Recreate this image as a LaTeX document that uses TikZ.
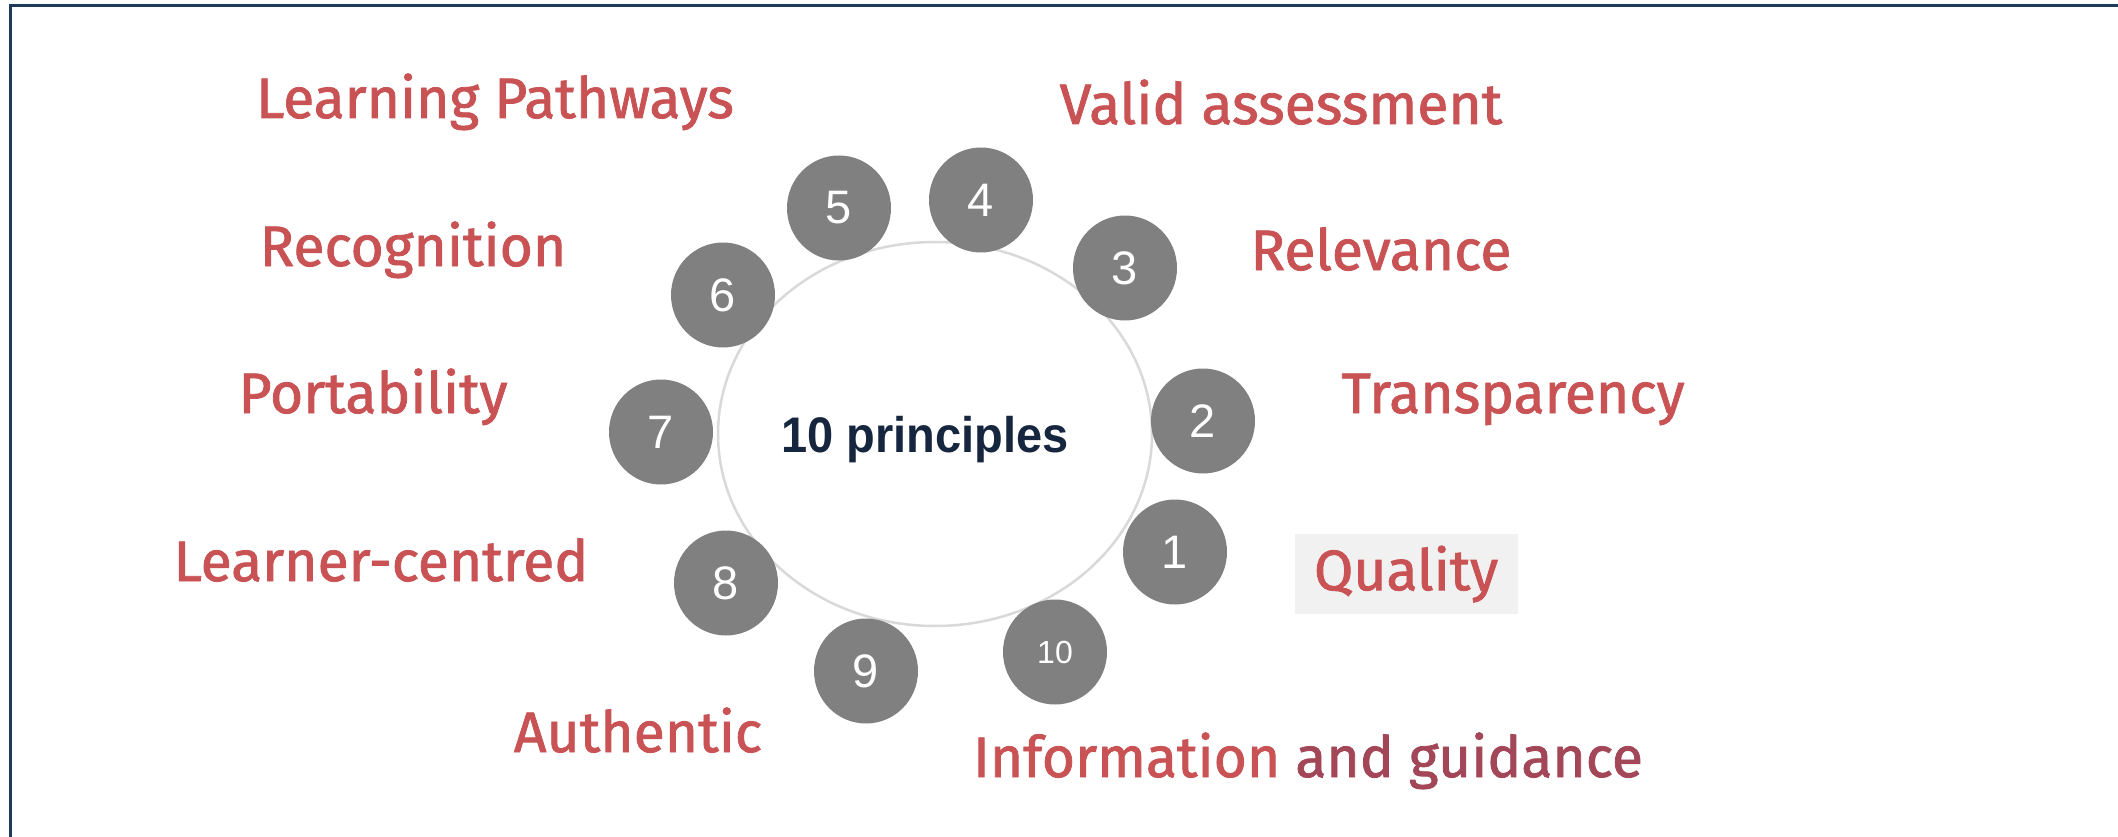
\documentclass[tikz,border=0pt]{standalone}
\usepackage{fontspec}
\setmainfont{Liberation Sans}
\newfontfamily\labelfont[FakeBold=1.4]{Fira Sans}
\usetikzlibrary{shapes.geometric}
\definecolor{framenavy}{HTML}{1F3B5C}
\definecolor{labelred}{HTML}{C95254}
\definecolor{labeldark}{HTML}{A34657}
\definecolor{dotgray}{HTML}{808080}
\definecolor{hubline}{HTML}{D9D9D9}
\definecolor{titlenavy}{HTML}{16263F}
\definecolor{qualitybg}{HTML}{F1F1F1}
\tikzset{
  num/.style={ellipse, fill=dotgray, text=white, inner sep=0pt,
    minimum width=104pt, minimum height=105pt, font=\fontsize{47}{47}\selectfont},
  principle/.style={anchor=base, text=labelred, inner sep=0pt,
    font=\labelfont\fontsize{57}{57}\selectfont},
}
\begin{document}
\begin{tikzpicture}[x=1pt,y=-1pt]
      \useasboundingbox (0,0) rectangle (2118,837);
      \fill[white] (0,0) rectangle (2118,837);
      \draw[framenavy, line width=3pt] (10,837) |- (2118,6);
      % the hub
      \node[ellipse, draw=hubline, line width=2.5pt, minimum width=434pt,
        minimum height=384pt] (hub) at (935,434) {};
      \node[anchor=base, text=titlenavy, inner sep=0pt,
        font=\bfseries\fontsize{50}{50}\selectfont] (title) at (925,452)
        {\scalebox{0.94}[1]{10 principles}};
      % numbered dots
      \draw
        (1175,552) node[num] (1){1}
        (1203,421) node[num] (2){2}
        (1125,268) node[num] (3){3}
        (981,200) node[num] (4){4}
        (839,208) node[num] (5){5}
        (723,295) node[num] (6){6}
        (661,432) node[num] (7){7}
        (726,583) node[num] (8){8}
        (866,671) node[num] (9){9}
        (1055,652) node[num, font=\fontsize{32}{32}\selectfont] (10){10};
      % principles
      \draw
        (1406,574) node[fill=qualitybg, text=labelred, inner sep=0pt, minimum width=223pt,
          minimum height=80pt, font=\labelfont\fontsize{57}{57}\selectfont] (quality){Quality}
        (1513,413) node[principle] (transparency){Transparency}
        (1381,270) node[principle] (relevance){Relevance}
        (1281,124) node[principle] (valid){Valid assessment}
        (495,118) node[principle] (pathways){Learning Pathways}
        (413,266) node[principle] (recognition){Recognition}
        (373,413) node[principle] (portability){Portability}
        (381,581) node[principle] (learner){Learner-centred}
        (638,752) node[principle] (authentic){Authentic}
        (1308,777) node[principle] (information){Information \textcolor{labeldark}{and guidance}};
    \end{tikzpicture}
\end{document}
